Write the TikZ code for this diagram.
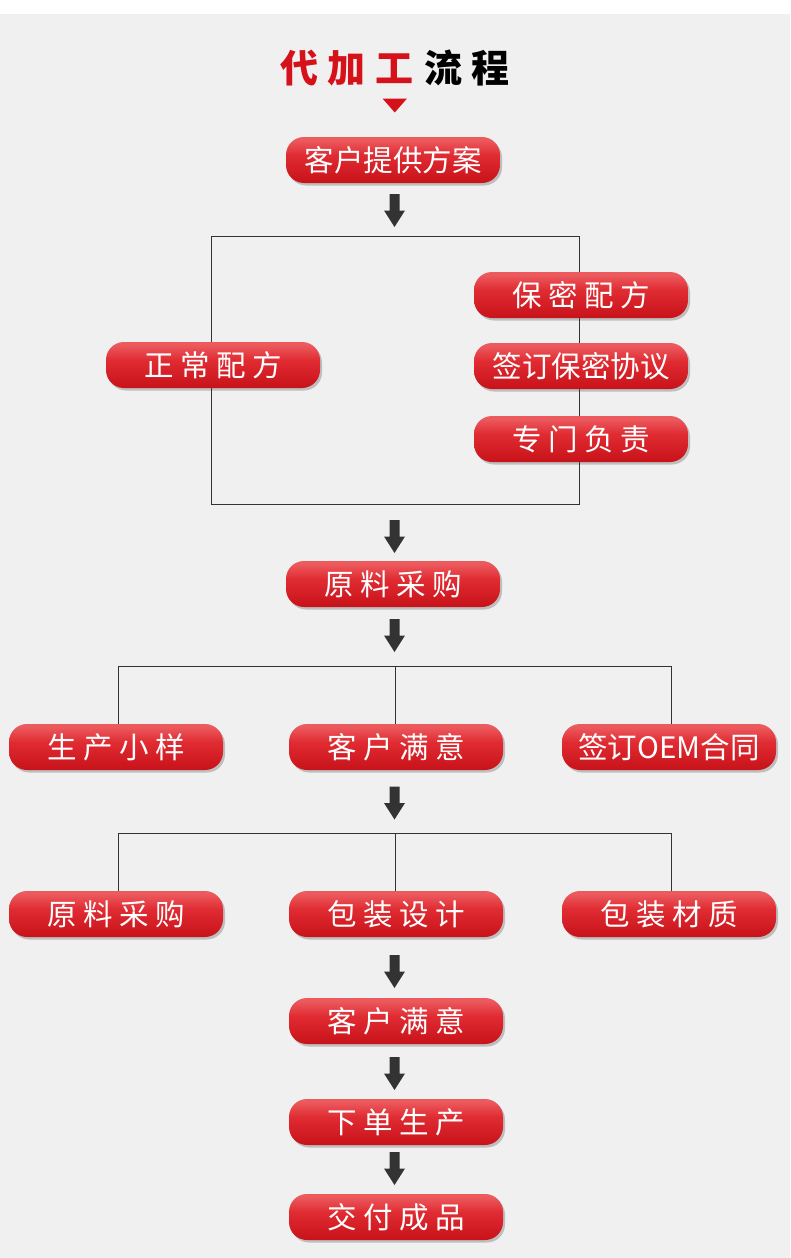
\documentclass[tikz,border=0pt]{standalone}
\usepackage{fontspec}
\newfontfamily\cjk{Noto Sans CJK SC}
\usetikzlibrary{calc,shadows}
\definecolor{bg}{HTML}{F0F0F0}
\definecolor{btop}{HTML}{EC5A5E}
\definecolor{bmid}{HTML}{DF2B31}
\definecolor{bbot}{HTML}{C8121A}
\definecolor{titlered}{HTML}{D5121A}
\definecolor{arrowgray}{HTML}{333333}
\definecolor{linegray}{HTML}{333333}
\pgfdeclareverticalshading{btnshade}{100bp}{color(0bp)=(bbot); color(25bp)=(bbot); color(55bp)=(bmid); color(72bp)=(btop); color(100bp)=(btop)}
\newcommand{\gapA}{\hspace{6.5pt}}
\tikzset{
  btn/.style={rounded corners=18pt, minimum width=214pt, minimum height=46pt,
    inner sep=0pt, shading=btnshade, text=white, font=\cjk\fontsize{29.5}{30}\selectfont,
    drop shadow={shadow xshift=2pt, shadow yshift=-2.5pt, fill=black!70, opacity=0.3}},
  conn/.style={draw=linegray, line width=1pt},
  blockarrow/.pic={\fill[arrowgray] (-5,16.5) -- (5,16.5) -- (5,0) -- (10.5,0) -- (0,-16.5) -- (-10.5,0) -- (-5,0) -- cycle;}
}
\begin{document}
\begin{tikzpicture}[x=1pt,y=1pt]
\useasboundingbox (0,0) rectangle (790,-1258);
\fill[bg] (0,0) rectangle (790,-1258);
\fill[white] (0,0) rectangle (790,-14);
% title
\node[font=\cjk\bfseries\fontsize{38}{40}\selectfont, inner sep=0pt] (title) at (395,-68)
  {\textcolor{titlered}{代\hspace{10pt}加\hspace{10pt}工}\hspace{10pt}\textcolor{black}{流\hspace{10pt}程}};
\fill[titlered] (382.5,-98.5) -- (407,-98.5) -- (394.75,-112.5) -- cycle;
% box and tree lines (behind buttons)
\coordinate (boxTL) at (211,-236);
\coordinate (boxBR) at (579,-504);
\draw[conn] (boxTL) rectangle (boxBR);
% buttons
\node[btn] (b1) at (393,-160) {客户提供方案};
\node[btn] (n1) at (213,-365) {正\gapA 常\gapA 配\gapA 方};
\node[btn] (p1) at (581,-295) {保\gapA 密\gapA 配\gapA 方};
\node[btn] (p2) at (581,-366) {签订保密协议};
\node[btn] (p3) at (581,-439) {专\gapA 门\gapA 负\gapA 责};
\node[btn] (b2) at (393,-584) {原\gapA 料\gapA 采\gapA 购};
\coordinate (h1) at (0,-666);
\coordinate (h2) at (0,-833);
\coordinate (r1ta) at (118,-724);
\coordinate (r1tb) at (395,-724);
\coordinate (r1tc) at (671,-724);
\coordinate (r2ta) at (118,-891);
\coordinate (r2tb) at (395,-891);
\coordinate (r2tc) at (671,-891);
\draw[conn] (r1ta) -- (r1ta |- h1) -- (r1tc |- h1) -- (r1tc);
\draw[conn] (r1tb) -- (r1tb |- h1);
\draw[conn] (r2ta) -- (r2ta |- h2) -- (r2tc |- h2) -- (r2tc);
\draw[conn] (r2tb) -- (r2tb |- h2);
\node[btn] (r1a) at (116,-747) {生\gapA 产\gapA 小\gapA 样};
\node[btn] (r1b) at (396,-747) {客\gapA 户\gapA 满\gapA 意};
\node[btn] (r1c) at (669,-747) {签订OEM合同};
\node[btn] (r2a) at (116,-914) {原\gapA 料\gapA 采\gapA 购};
\node[btn] (r2b) at (396,-914) {包\gapA 装\gapA 设\gapA 计};
\node[btn] (r2c) at (669,-914) {包\gapA 装\gapA 材\gapA 质};
\node[btn] (b3) at (396,-1021) {客\gapA 户\gapA 满\gapA 意};
\node[btn] (b4) at (396,-1122) {下\gapA 单\gapA 生\gapA 产};
\node[btn] (b5) at (396,-1217) {交\gapA 付\gapA 成\gapA 品};
% block arrows
\pic at (394.5,-210.5) {blockarrow};
\pic at (394.5,-536.5) {blockarrow};
\pic at (394.5,-635.5) {blockarrow};
\pic at (394.5,-803) {blockarrow};
\pic at (394.5,-971.5) {blockarrow};
\pic at (394.5,-1073.5) {blockarrow};
\pic at (394.5,-1168.5) {blockarrow};
\end{tikzpicture}
\end{document}
